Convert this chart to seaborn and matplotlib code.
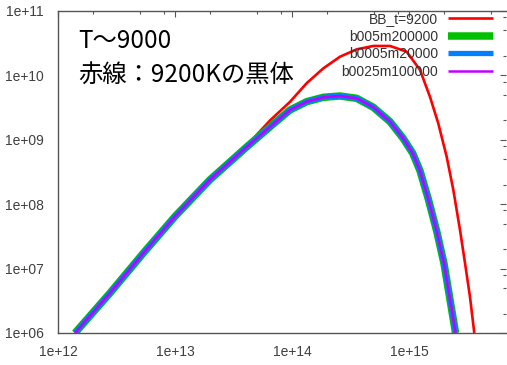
import numpy as np
import pandas as pd
import matplotlib
matplotlib.use("Agg")
import matplotlib.pyplot as plt
import seaborn as sns
from matplotlib.ticker import LogLocator, FuncFormatter, NullFormatter

# ---- data (log10 values) ----
bb_log_nu = [12.145, 13.000, 13.613, 13.812, 13.983, 14.126, 14.268, 14.410, 14.553,
             14.695, 14.838, 14.980, 15.094, 15.179, 15.250, 15.322, 15.379, 15.436,
             15.479, 15.521, 15.558]
bb_log_f = [6.02, 7.83, 8.91, 9.30, 9.59, 9.88, 10.11, 10.29, 10.405,
            10.457, 10.457, 10.368, 10.085, 9.669, 9.256, 8.738, 8.220, 7.599,
            7.082, 6.564, 6.00]

model_log_nu = [12.145, 12.444, 12.729, 13.000, 13.299, 13.613, 13.850, 13.983, 14.126,
                14.268, 14.410, 14.553, 14.695, 14.838, 14.951, 15.032, 15.094, 15.165,
                15.237, 15.299, 15.345, 15.398]
b005m200000_log_f = [6.00, 6.62, 7.24, 7.81, 8.38, 8.89, 9.26, 9.463, 9.592,
                     9.660, 9.680, 9.644, 9.505, 9.281, 9.02, 8.79, 8.52, 8.08,
                     7.58, 7.08, 6.58, 6.00]
b0005m20000_log_f = [6.00, 6.62, 7.24, 7.81, 8.38, 8.89, 9.26, 9.463, 9.592,
                     9.660, 9.680, 9.644, 9.505, 9.281, 9.02, 8.79, 8.52, 8.08,
                     7.58, 7.08, 6.58, 6.00]
b0025m100000_log_f = [6.00, 6.62, 7.24, 7.81, 8.38, 8.89, 9.26, 9.463, 9.592,
                      9.660, 9.680, 9.644, 9.505, 9.281, 9.02, 8.79, 8.52, 8.08,
                      7.58, 7.08, 6.58, 6.00]

series_labels = ["BB_t=9200", "b005m200000", "b0005m20000", "b0025m100000"]
series_colors = ["#ff0000", "#00c000", "#0080ff", "#c000ff"]
series_widths = [1.9, 5.4, 3.8, 1.8]

title_lines = ["T～9000", "赤線：9200Kの黒体"]

# ---- build data frames ----
frames = [
    pd.DataFrame({"nu": np.power(10.0, bb_log_nu), "f": np.power(10.0, bb_log_f)}),
    pd.DataFrame({"nu": np.power(10.0, model_log_nu), "f": np.power(10.0, b005m200000_log_f)}),
    pd.DataFrame({"nu": np.power(10.0, model_log_nu), "f": np.power(10.0, b0005m20000_log_f)}),
    pd.DataFrame({"nu": np.power(10.0, model_log_nu), "f": np.power(10.0, b0025m100000_log_f)}),
]

sns.set_style("white")
plt.rcParams["font.family"] = ["Liberation Sans", "DejaVu Sans"]

W, H = 507, 365
fig = plt.figure(figsize=(W / 100, H / 100), dpi=100)
ax_left, ax_right, ax_top, ax_bottom = 58, 506, 11, 333
ax = fig.add_axes([ax_left / W, 1 - ax_bottom / H, (ax_right - ax_left) / W, (ax_bottom - ax_top) / H])

for df, lab, col, lw in zip(frames, series_labels, series_colors, series_widths):
    sns.lineplot(data=df, x="nu", y="f", color=col, linewidth=lw, label=lab, ax=ax,
                 sort=False, solid_capstyle="butt", solid_joinstyle="round")

ax.set_xscale("log")
ax.set_yscale("log")
ax.set_xlim(1e12, 10 ** (12 + (ax_right - ax_left) / 117.0))
ax.set_ylim(1e6, 1e11)
ax.set_xlabel("")
ax.set_ylabel("")

fmt = FuncFormatter(lambda v, p: f"{v:.0e}")
ax.xaxis.set_major_locator(LogLocator(base=10, numticks=20))
ax.yaxis.set_major_locator(LogLocator(base=10, numticks=20))
ax.xaxis.set_minor_locator(LogLocator(base=10, subs=[2, 5, 8], numticks=20))
ax.yaxis.set_minor_locator(LogLocator(base=10, subs=[2, 5, 8], numticks=20))
ax.xaxis.set_major_formatter(fmt)
ax.yaxis.set_major_formatter(fmt)
ax.xaxis.set_minor_formatter(NullFormatter())
ax.yaxis.set_minor_formatter(NullFormatter())

tick_col = "#404040"
ax.tick_params(which="both", direction="in", top=True, right=True, color="#555555",
               labelcolor=tick_col, labelsize=10)
ax.tick_params(which="major", length=4, width=0.8)
ax.tick_params(which="minor", length=2.3, width=0.8)
ax.tick_params(axis="x", which="major", pad=9)
ax.tick_params(axis="y", which="major", pad=10)

for side in ["left", "bottom", "top"]:
    ax.spines[side].set_color("#555555")
    ax.spines[side].set_linewidth(1.0)
ax.spines["right"].set_visible(False)

leg = ax.legend(loc="upper right", bbox_to_anchor=(0.971, 0.996), markerfirst=False,
                frameon=False, fontsize=10, handlelength=3.25, handletextpad=0.7,
                labelspacing=0.25, borderpad=0, borderaxespad=0)
for t in leg.get_texts():
    t.set_color("#333333")

cjk = ["Noto Sans CJK JP", "DejaVu Sans"]
fig.text(78 / W, 1 - 41 / H, title_lines[0], fontsize=17.5, family=cjk, va="center", ha="left", color="black")
fig.text(78 / W, 1 - 75 / H, title_lines[1], fontsize=17.5, family=cjk, va="center", ha="left", color="black")

fig.savefig("out.png", dpi=100)
